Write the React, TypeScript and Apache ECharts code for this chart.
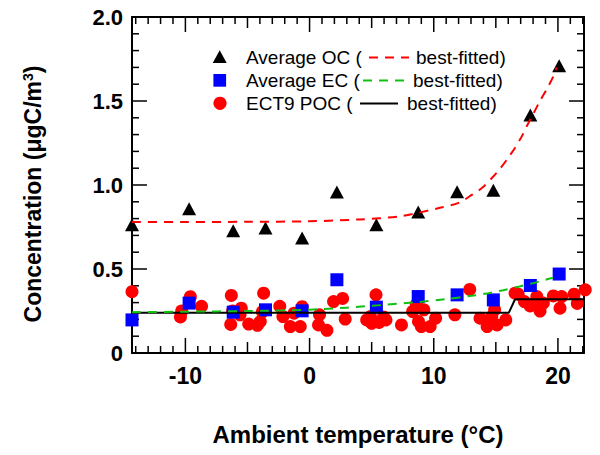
import React, { useEffect, useRef } from "react";
import * as echarts from "echarts";

const FONT = "'Liberation Sans', Arial, Helvetica, sans-serif";

// Average OC / EC (same temperature bins)
const avgTemps = [-14.3, -9.7, -6.15, -3.55, -0.6, 2.2, 5.38, 8.75, 11.88, 14.8, 17.78, 20.1];
const ocValues = [0.764, 0.858, 0.728, 0.744, 0.685, 0.959, 0.764, 0.84, 0.96, 0.969, 1.417, 1.71];
const ecValues = [0.197, 0.297, 0.243, 0.257, 0.251, 0.436, 0.273, 0.336, 0.346, 0.316, 0.402, 0.47];

// ECT9 POC individual points
const pocTemps = [
  -14.3, -10.4, -10.3, -9.6, -8.7, -6.3, -6.2, -6.35, -5.5, -5.6, -4.9, -4.2,
  -3.7, -3.8, -3.97, -2.4, -2.15, -1.55, -1.25, -0.75, -0.6,
  0.8, 0.72, 1.4, 1.93, 2.66, 2.87,
  4.6, 4.9, 5.35, 5.0, 5.6, 5.95, 6.15,
  7.4, 8.3, 8.6, 8.77, 9.0, 9.2, 9.71, 10.15,
  11.7, 12.9, 13.73, 14.3, 14.67, 14.9, 15.1, 15.8,
  16.55, 16.8, 17.3, 17.76, 18.0, 18.3, 18.56, 18.83, 19.63, 20.17, 20.3, 21.3, 21.56, 22.2,
];
const pocValues = [
  0.365, 0.215, 0.25, 0.335, 0.278, 0.343, 0.25, 0.17, 0.267, 0.227, 0.172, 0.165,
  0.356, 0.245, 0.187, 0.278, 0.217, 0.157, 0.237, 0.157, 0.276,
  0.227, 0.167, 0.135, 0.306, 0.325, 0.202,
  0.197, 0.217, 0.346, 0.177, 0.182, 0.215, 0.197,
  0.167, 0.247, 0.29, 0.187, 0.157, 0.257, 0.157, 0.207,
  0.227, 0.378, 0.207, 0.157, 0.217, 0.257, 0.167, 0.197,
  0.356, 0.35, 0.306, 0.28, 0.29, 0.336, 0.25, 0.297, 0.34, 0.267, 0.336, 0.35, 0.295, 0.376,
];

// Best-fitted curves
const ocFitTemps = [-14.3, -10, -5, 0, 4, 7.3, 10.5, 12, 13.1, 13.9, 14.7, 15.3, 15.9, 16.55, 17.1, 17.5, 18, 18.55, 19.1, 19.65, 19.9];
const ocFitValues = [0.78, 0.78, 0.781, 0.784, 0.795, 0.814, 0.864, 0.894, 0.943, 0.983, 1.043, 1.093, 1.152, 1.222, 1.291, 1.351, 1.421, 1.5, 1.57, 1.65, 1.7];
const ecFitTemps = [-14.3, -10, -5, 0, 3, 6.1, 9, 10.9, 13.2, 14.4, 15.6, 16.9, 18, 19.2, 19.6];
const ecFitValues = [0.243, 0.246, 0.25, 0.258, 0.27, 0.287, 0.305, 0.32, 0.342, 0.356, 0.374, 0.396, 0.416, 0.44, 0.446];
const pocFitTemps = [-14.3, 16.05, 16.55, 22.1];
const pocFitValues = [0.24, 0.24, 0.32, 0.32];

// Axis ticks
const xLabelValues = [-10, 0, 10, 20];
const xMidTicks = [-5, 5, 15];
const xMinorTicks = [-14, -13, -12, -11, -9, -8, -7, -6, -4, -3, -2, -1, 1, 2, 3, 4, 6, 7, 8, 9, 11, 12, 13, 14, 16, 17, 18, 19, 21, 22];
const yMajorTicks = [0.5, 1.0, 1.5];
const yMinorTicks = [0.1, 0.2, 0.3, 0.4, 0.6, 0.7, 0.8, 0.9, 1.1, 1.2, 1.3, 1.4, 1.6, 1.7, 1.8, 1.9];

const X_MIN = -14.3;
const X_MAX = 22.1;
const Y_MIN = 0;
const Y_MAX = 2;

const zip = (a: number[], b: number[]) => a.map((v, i) => [v, b[i]]);

// Inward frame ticks drawn as thin rect symbols anchored on the frame
const TW = 1.5;
const xTick = (vals: number[], len: number) =>
  vals.flatMap((v) => [
    { value: [v, Y_MIN], symbolSize: [TW, len], symbolOffset: [0, -len / 2] },
    { value: [v, Y_MAX], symbolSize: [TW, len], symbolOffset: [0, len / 2] },
  ]);
const yTick = (vals: number[], len: number) =>
  vals.flatMap((v) => [
    { value: [X_MIN, v], symbolSize: [len, TW], symbolOffset: [len / 2, 0] },
    { value: [X_MAX, v], symbolSize: [len, TW], symbolOffset: [-len / 2, 0] },
  ]);
const tickData = [
  ...xTick(xMinorTicks, 7),
  ...xTick(xMidTicks, 11),
  ...xTick(xLabelValues, 15),
  ...yTick(yMinorTicks, 7),
  ...yTick(yMajorTicks, 15),
];

const frame = () => ({ show: true, onZero: false, lineStyle: { color: "#000", width: 2 } });

export default function App() {
  const ref = useRef<HTMLDivElement>(null);

  useEffect(() => {
    if (!ref.current) return;
    const chart = echarts.init(ref.current, undefined, { renderer: "svg" });
    const txt = (x: number, y: number, text: string) => ({
      type: "text",
      x,
      y,
      style: { text, fontSize: 19, fontFamily: FONT, fill: "#000", verticalAlign: "middle", align: "left" },
    });
    const option: any = {
      animation: false,
      backgroundColor: "#fff",
      grid: { left: 132, right: 16, top: 17, bottom: 102 },
      xAxis: [
        {
          type: "value",
          position: "bottom",
          min: X_MIN,
          max: X_MAX,
          name: "Ambient temperature (°C)",
          nameLocation: "middle",
          nameGap: 69,
          nameTextStyle: { fontSize: 24, fontWeight: "bold", fontFamily: FONT, color: "#000" },
          axisLine: frame(),
          axisTick: { show: false },
          axisLabel: {
            show: true,
            customValues: xLabelValues,
            margin: 11,
            fontSize: 23,
            fontWeight: "bold",
            fontFamily: FONT,
            color: "#000",
          },
          splitLine: { show: false },
        },
        {
          type: "value",
          position: "top",
          min: X_MIN,
          max: X_MAX,
          axisLine: frame(),
          axisTick: { show: false },
          axisLabel: { show: false },
          splitLine: { show: false },
        },
      ],
      yAxis: [
        {
          type: "value",
          position: "left",
          min: Y_MIN,
          max: Y_MAX,
          interval: 0.5,
          name: "{a|Concentration (μgC/m}{s|3}{a|)}",
          nameLocation: "middle",
          nameRotate: 90,
          nameGap: 88,
          nameTextStyle: {
            color: "#000",
            padding: [0, 18, 0, 0],
            rich: {
              a: { fontSize: 23, fontWeight: "bold", fontFamily: FONT, color: "#000" },
              s: { fontSize: 14, fontWeight: "bold", fontFamily: FONT, color: "#000", verticalAlign: "top" },
            },
          },
          axisLine: frame(),
          axisTick: { show: false },
          axisLabel: {
            show: true,
            margin: 9,
            fontSize: 22,
            fontWeight: "bold",
            fontFamily: FONT,
            color: "#000",
            formatter: (v: number) => (v === 0 ? "0" : v.toFixed(1)),
          },
          splitLine: { show: false },
        },
        {
          type: "value",
          position: "right",
          min: Y_MIN,
          max: Y_MAX,
          interval: 0.5,
          axisLine: frame(),
          axisTick: { show: false },
          axisLabel: { show: false },
          splitLine: { show: false },
        },
      ],
      series: [
        {
          name: "frame ticks",
          type: "scatter",
          data: tickData,
          symbol: "rect",
          silent: true,
          clip: false,
          itemStyle: { color: "#000", opacity: 1 },
          emphasis: { disabled: true },
        },
        {
          name: "ECT9 POC",
          type: "scatter",
          data: zip(pocTemps, pocValues),
          symbol: "circle",
          symbolSize: 13,
          itemStyle: { color: "#ff0000", opacity: 1 },
          clip: false,
        },
        {
          name: "Average EC",
          type: "scatter",
          data: zip(avgTemps, ecValues),
          symbol: "rect",
          symbolSize: 13,
          itemStyle: { color: "#0000ff", opacity: 1 },
          clip: false,
        },
        {
          name: "Average OC",
          type: "scatter",
          data: zip(avgTemps, ocValues),
          symbol: "triangle",
          symbolSize: [14, 13],
          itemStyle: { color: "#000", opacity: 1 },
          clip: false,
        },
        {
          name: "ECT9 POC fit",
          type: "line",
          data: zip(pocFitTemps, pocFitValues),
          showSymbol: false,
          lineStyle: { color: "#000", width: 2 },
        },
        {
          name: "Average EC fit",
          type: "line",
          data: zip(ecFitTemps, ecFitValues),
          showSymbol: false,
          smooth: 0.3,
          lineStyle: { color: "#11c011", width: 2, type: [9, 7] },
        },
        {
          name: "Average OC fit",
          type: "line",
          data: zip(ocFitTemps, ocFitValues),
          showSymbol: false,
          smooth: 0.3,
          lineStyle: { color: "#ff0000", width: 2, type: [9, 7] },
        },
      ],
      graphic: [
        { type: "polygon", shape: { points: [[219.7, 50.3], [212.7, 63], [226.7, 63]] }, style: { fill: "#000" } },
        { type: "rect", shape: { x: 213.4, y: 74, width: 12.7, height: 12.7 }, style: { fill: "#0000ff" } },
        { type: "circle", shape: { cx: 220, cy: 103.3, r: 6.6 }, style: { fill: "#ff0000" } },
        txt(246, 57.5, "Average OC ("),
        { type: "line", shape: { x1: 369, y1: 57.5, x2: 409, y2: 57.5 }, style: { stroke: "#ff0000", lineWidth: 2, lineDash: [9, 7] } },
        txt(416, 57.5, "best-fitted)"),
        txt(246, 80.5, "Average EC ("),
        { type: "line", shape: { x1: 363, y1: 80.5, x2: 405, y2: 80.5 }, style: { stroke: "#11c011", lineWidth: 2, lineDash: [9, 7] } },
        txt(413, 80.5, "best-fitted)"),
        txt(246, 103.5, "ECT9 POC ("),
        { type: "line", shape: { x1: 360, y1: 103.5, x2: 398, y2: 103.5 }, style: { stroke: "#000", lineWidth: 2 } },
        txt(407, 103.5, "best-fitted)"),
      ],
    };
    chart.setOption(option);
    return () => chart.dispose();
  }, []);

  return (
    <div
      ref={ref}
      style={{ position: "fixed", left: 0, top: 0, width: 600, height: 455, background: "#fff" }}
    />
  );
}
